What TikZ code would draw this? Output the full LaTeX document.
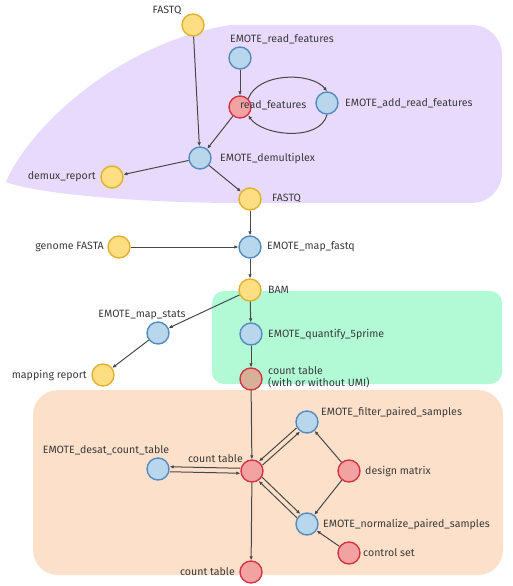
\documentclass[tikz,border=0pt]{standalone}
\usepackage{fontspec}
\setmainfont{Fira Sans}
\usetikzlibrary{arrows.meta,calc}
\definecolor{purplebg}{RGB}{232,218,252}
\definecolor{greenbg}{RGB}{178,250,214}
\definecolor{orangebg}{RGB}{253,224,201}
\definecolor{yfill}{RGB}{254,222,130}
\definecolor{ydraw}{RGB}{224,176,48}
\definecolor{bfill}{RGB}{184,214,236}
\definecolor{bdraw}{RGB}{84,140,190}
\definecolor{rfill}{RGB}{243,162,162}
\definecolor{rdraw}{RGB}{212,52,72}
\definecolor{mfill}{RGB}{216,176,152}
\definecolor{edgec}{RGB}{72,72,72}
\definecolor{labc}{RGB}{58,58,58}
\tikzset{
  dot/.style={circle,minimum size=22pt,inner sep=0pt,line width=1.4pt},
  ynode/.style={dot,fill=yfill,draw=ydraw},
  bnode/.style={dot,fill=bfill,draw=bdraw},
  rnode/.style={dot,fill=rfill,draw=rdraw},
  mnode/.style={dot,fill=mfill,draw=rdraw},
  lab/.style={font=\fontsize{10.6}{12.5}\selectfont,text=labc,inner sep=0pt},
  edge/.style={draw=edgec,line width=1pt,-{Latex[length=4pt,width=3.6pt]}},
}
\begin{document}
\begin{tikzpicture}[x=1pt,y=-1pt]
\useasboundingbox (0,0) rectangle (512,586);
% backgrounds
\fill[purplebg] (6,182) .. controls (25,135) and (110,45) .. (230,25) -- (472,25)
  arc[start angle=270,end angle=360,radius=30] -- (502,173)
  arc[start angle=0,end angle=90,radius=30] -- (240,203)
  .. controls (150,203) and (40,195) .. cycle;
\fill[greenbg,rounded corners=12pt] (212,291) rectangle (502,384);
\fill[orangebg,rounded corners=25pt] (33,390) rectangle (503,575);
% nodes
\node[ynode] (fq1) at (193,25) {};
\node[bnode] (erf) at (240,58) {};
\node[rnode] (rf) at (240,107) {};
\node[bnode] (addrf) at (327,103) {};
\node[bnode] (demux) at (200,158) {};
\node[ynode] (drep) at (112,177) {};
\node[ynode] (fq2) at (250,199) {};
\node[bnode] (mapfq) at (250,247) {};
\node[ynode] (genome) at (119,247) {};
\node[ynode] (bam) at (250,290) {};
\node[bnode] (mapstats) at (158,333) {};
\node[ynode] (mrep) at (103,375) {};
\node[bnode] (quant) at (251,334) {};
\node[mnode] (cumi) at (251,379) {};
\node[rnode] (cc) at (252,471) {};
\node[bnode] (desat) at (158,469) {};
\node[bnode] (filt) at (307,422) {};
\node[rnode] (design) at (349,471) {};
\node[bnode] (norm) at (307,524) {};
\node[rnode] (ctrl) at (349,553) {};
\node[rnode] (cbot) at (251,572) {};
% labels
\node[lab] (l1) at (167,10) {FASTQ};
\node[lab] (l2) at (282,39) {EMOTE\_read\_features};
\node[lab,anchor=west] (l3) at (240,105) {read\_features};
\node[lab,anchor=west] (l4) at (345,103) {EMOTE\_add\_read\_features};
\node[lab,anchor=west] (l5) at (220,158) {EMOTE\_demultiplex};
\node[lab,anchor=east] (l6) at (96,177) {demux\_report};
\node[lab,anchor=west] (l7) at (272,198) {FASTQ};
\node[lab,anchor=west] (l8) at (267,247) {EMOTE\_map\_fastq};
\node[lab,anchor=east] (l9) at (104,247) {genome FASTA};
\node[lab,anchor=west] (l10) at (268,290) {BAM};
\node[lab] (l11) at (142,315) {EMOTE\_map\_stats};
\node[lab,anchor=east] (l12) at (87,375) {mapping report};
\node[lab,anchor=west] (l13) at (268,334) {EMOTE\_quantify\_5prime};
\node[lab,anchor=west,align=left] (l14) at (268,377.5) {count table\\(with or without UMI)};
\node[lab,anchor=east] (l15) at (243,459) {count table};
\node[lab] (l16) at (106,450) {EMOTE\_desat\_count\_table};
\node[lab,anchor=west] (l17) at (321,412) {EMOTE\_filter\_paired\_samples};
\node[lab,anchor=west] (l18) at (365,471) {design matrix};
\node[lab,anchor=west] (l19) at (323,524) {EMOTE\_normalize\_paired\_samples};
\node[lab,anchor=west] (l20) at (363,553) {control set};
\node[lab,anchor=east] (l21) at (235,572) {count table};
% edges
\draw[edge] (fq1) -- (demux);
\draw[edge] (erf) -- (rf);
\draw[edge] (rf) -- (demux);
\draw[edge] (rf.north east) .. controls (258,72) and (312,72) .. (addrf.north);
\draw[edge] (addrf.south) .. controls (320,142) and (262,136) .. (rf.south east);
\draw[edge] (demux) -- (drep);
\draw[edge] (demux) -- (fq2);
\draw[edge] (fq2) -- (mapfq);
\draw[edge] (genome) -- (mapfq);
\draw[edge] (mapfq) -- (bam);
\draw[edge] (bam) -- (mapstats);
\draw[edge] (bam) -- (quant);
\draw[edge] (mapstats) -- (mrep);
\draw[edge] (quant) -- (cumi);
\draw[edge] (cumi) -- (cc);
\draw[edge,transform canvas={shift={(0,-2.5)}}] (cc) -- (desat);
\draw[edge,transform canvas={shift={(0,2.5)}}] (desat) -- (cc);
\draw[edge,transform canvas={shift={(-1.7,-1.9)}}] (filt) -- (cc);
\draw[edge,transform canvas={shift={(1.7,1.9)}}] (cc) -- (filt);
\draw[edge,transform canvas={shift={(1.7,-1.9)}}] (cc) -- (norm);
\draw[edge,transform canvas={shift={(-1.7,1.9)}}] (norm) -- (cc);
\draw[edge] (design) -- (filt);
\draw[edge] (design) -- (norm);
\draw[edge] (ctrl) -- (norm);
\draw[edge] (cc) -- (cbot);
\end{tikzpicture}
\end{document}
